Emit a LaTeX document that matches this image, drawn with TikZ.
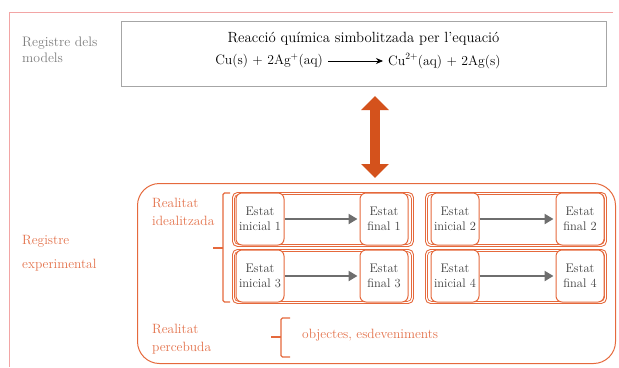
\documentclass[tikz,border=0pt]{standalone}
\usetikzlibrary{arrows.meta}
\definecolor{orn}{HTML}{E5693C}
\definecolor{ornt}{HTML}{E3714A}
\definecolor{darr}{HTML}{D4521C}
\definecolor{frm}{HTML}{F2A5A5}
\definecolor{gtxt}{HTML}{7E7E7E}
\definecolor{stxt}{HTML}{404040}
\definecolor{garrc}{HTML}{6E6E6E}
\tikzset{
  grp/.style={draw=orn, rounded corners=5bp, line width=0.9bp, minimum width=181bp, minimum height=54bp, anchor=north west, inner sep=0pt},
  stbox/.style={draw=orn, fill=white, rounded corners=6bp, line width=1bp, minimum width=48bp, minimum height=52bp, align=center, font=\fontsize{12.5}{15}\selectfont, text=stxt, inner sep=0.5bp},
  garr/.style={draw=garrc, line width=2.6bp, -{Triangle[length=9bp,width=10bp]}, shorten >=2bp},
  olab/.style={text=ornt, font=\fontsize{13.5}{18}\selectfont, align=left, anchor=west, inner sep=0pt},
  glab/.style={text=gtxt, font=\fontsize{13.8}{16}\selectfont, align=left, anchor=west, inner sep=0pt},
  brk/.style={draw=orn, line width=1.1bp, rounded corners=1.5bp}
}
\begin{document}
\begin{tikzpicture}[x=1bp,y=-1bp]
\useasboundingbox (0,0) rectangle (619,367);
% pink frame
\draw[frm, line width=0.8bp] (9,367) -- (9,12) -- (613,12);
% model register
\node[glab] (regmod) at (22,50) {Registre dels\\models};
\node[draw=gray!70, line width=1bp, minimum width=485bp, minimum height=65bp, anchor=north west, inner sep=0pt] (model) at (121,21) {};
\node[font=\fontsize{14.8}{16}\selectfont, inner sep=0pt] (title) at (363.5,39) {Reacció química simbolitzada per l'equació};
\node[font=\fontsize{13.7}{16}\selectfont, anchor=east, inner sep=0pt] (lhs) at (323,61) {Cu(s) + 2Ag\textsuperscript{+}(aq)};
\node[font=\fontsize{13.7}{16}\selectfont, anchor=west, inner sep=0pt] (rhs) at (388,61) {Cu\textsuperscript{2+}(aq) + 2Ag(s)};
\draw[line width=0.8bp, -{Stealth[length=7bp,width=6bp]}, shorten <=5bp, shorten >=5bp] (lhs.east) -- (rhs.west);
% double arrow
\coordinate (atop) at (375,96);
\coordinate (abot) at (375,178);
\draw[darr, line width=10bp, {Triangle[width=27bp,length=14bp]}-{Triangle[width=27bp,length=14bp]}] (atop) -- (abot);
% experimental register
\node[olab, font=\fontsize{13.5}{23.5}\selectfont] (regexp) at (22,253) {Registre\\experimental};
\node[draw=orn, rounded corners=22bp, line width=1bp, minimum width=478bp, minimum height=180bp, anchor=north west, inner sep=0pt] (exp) at (137,183) {};
\node[olab] (ideal) at (152,212) {Realitat\\idealitzada};
\node[olab] (perc) at (152,339) {Realitat\\percebuda};
\node[olab] (obj) at (302,335) {objectes, esdeveniments};
% braces
\draw[brk] (230,193) -- (223,193) -- (223,302) -- (230,302);
\draw[brk] (223,248) -- (213,248);
\draw[brk] (290,318) -- (281,318) -- (281,357) -- (290,357);
\draw[brk] (281,337) -- (271,337);
% groups
\foreach \gx/\gy/\gn in {232/192/g1, 425/192/g2, 232/249/g3, 425/249/g4}{
  \node[grp] (\gn) at (\gx,\gy) {};
  \draw[orn, rounded corners=4bp, line width=0.7bp] ([shift={(2.5,2.5)}]\gn.north west) rectangle ([shift={(-2.5,-2.5)}]\gn.south east);
}
\node[stbox] (i1) at (260,219) {Estat\\inicial 1};
\node[stbox] (f1) at (384,219) {Estat\\final 1};
\node[stbox] (i2) at (455,219) {Estat\\inicial 2};
\node[stbox] (f2) at (580,219) {Estat\\final 2};
\node[stbox] (i3) at (260,276) {Estat\\inicial 3};
\node[stbox] (f3) at (384,276) {Estat\\final 3};
\node[stbox] (i4) at (455,276) {Estat\\inicial 4};
\node[stbox] (f4) at (580,276) {Estat\\final 4};
\draw[garr] (i1) -- (f1);
\draw[garr] (i2) -- (f2);
\draw[garr] (i3) -- (f3);
\draw[garr] (i4) -- (f4);
\end{tikzpicture}
\end{document}
